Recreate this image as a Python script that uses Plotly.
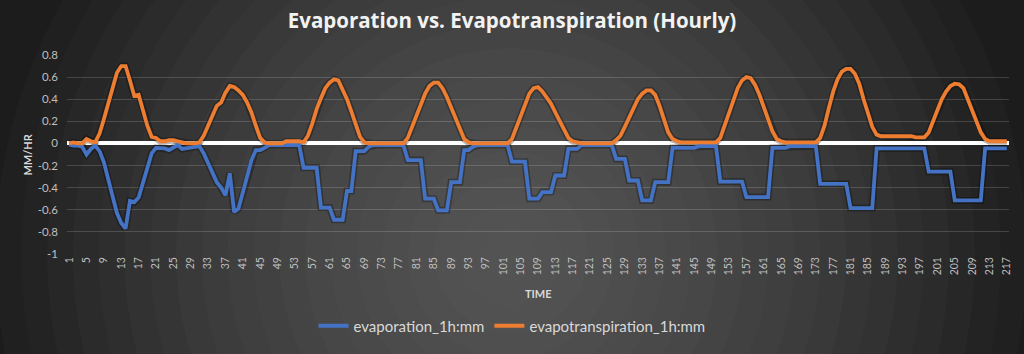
import plotly.graph_objects as go

# ---------------- data ----------------
hours = list(range(1, 218))

evapotranspiration = [
    0.00, 0.01, 0.00, 0.00, 0.04, 0.02, 0.01, 0.09, 0.22, 0.37,
    0.50, 0.64, 0.70, 0.70, 0.57, 0.43, 0.44, 0.31, 0.16, 0.06,
    0.05, 0.02, 0.02, 0.03, 0.03, 0.02, 0.01, 0.00, 0.00, 0.00,
    0.01, 0.07, 0.16, 0.26, 0.34, 0.37, 0.46, 0.52, 0.51, 0.48,
    0.44, 0.37, 0.28, 0.16, 0.05, 0.01, 0.00, 0.00, 0.00, 0.00,
    0.02, 0.02, 0.02, 0.02, 0.01, 0.07, 0.18, 0.31, 0.41, 0.50,
    0.55, 0.58, 0.57, 0.49, 0.40, 0.29, 0.18, 0.06, 0.01, 0.00,
    0.00, 0.00, 0.00, 0.00, 0.00, 0.00, 0.00, 0.00, 0.05, 0.15,
    0.26, 0.37, 0.45, 0.52, 0.55, 0.55, 0.50, 0.42, 0.32, 0.22,
    0.12, 0.04, 0.01, 0.00, 0.00, 0.00, 0.00, 0.00, 0.00, 0.00,
    0.00, 0.00, 0.04, 0.14, 0.26, 0.36, 0.45, 0.50, 0.51, 0.47,
    0.42, 0.36, 0.28, 0.20, 0.12, 0.05, 0.02, 0.01, 0.00, 0.00,
    0.00, 0.00, 0.00, 0.00, 0.00, 0.00, 0.03, 0.07, 0.15, 0.24,
    0.32, 0.40, 0.45, 0.48, 0.48, 0.44, 0.34, 0.22, 0.10, 0.04,
    0.02, 0.01, 0.01, 0.01, 0.01, 0.01, 0.01, 0.01, 0.01, 0.01,
    0.05, 0.16, 0.28, 0.40, 0.50, 0.57, 0.60, 0.59, 0.53, 0.44,
    0.34, 0.22, 0.11, 0.04, 0.02, 0.01, 0.01, 0.01, 0.01, 0.01,
    0.01, 0.01, 0.01, 0.05, 0.16, 0.32, 0.47, 0.58, 0.65, 0.675,
    0.675, 0.63, 0.54, 0.40, 0.26, 0.15, 0.08, 0.065, 0.065, 0.065,
    0.065, 0.065, 0.065, 0.065, 0.065, 0.055, 0.055, 0.055, 0.10, 0.19,
    0.30, 0.40, 0.47, 0.52, 0.54, 0.535, 0.50, 0.40, 0.30, 0.20,
    0.10, 0.04, 0.02, 0.02, 0.02, 0.02, 0.02,
]

evaporation = [
    -0.01, -0.02, -0.02, -0.03, -0.10, -0.05, -0.02, -0.07, -0.17, -0.33,
    -0.49, -0.63, -0.72, -0.77, -0.52, -0.53, -0.49, -0.36, -0.22, -0.09,
    -0.04, -0.04, -0.045, -0.06, -0.04, -0.015, -0.05, -0.045, -0.04, -0.035,
    -0.025, -0.09, -0.18, -0.25, -0.35, -0.40, -0.47, -0.27, -0.62, -0.59,
    -0.45, -0.30, -0.15, -0.06, -0.06, -0.04, -0.015, -0.015, -0.015, -0.015,
    -0.015, -0.015, -0.015, -0.015, -0.22, -0.22, -0.22, -0.22, -0.58, -0.58,
    -0.58, -0.69, -0.69, -0.69, -0.43, -0.43, -0.07, -0.07, -0.07, -0.03,
    -0.015, -0.015, -0.015, -0.015, -0.015, -0.015, -0.015, -0.015, -0.15, -0.15,
    -0.15, -0.15, -0.50, -0.50, -0.50, -0.605, -0.605, -0.605, -0.35, -0.35,
    -0.35, -0.06, -0.06, -0.03, -0.015, -0.015, -0.015, -0.015, -0.015, -0.015,
    -0.015, -0.015, -0.165, -0.165, -0.165, -0.165, -0.50, -0.50, -0.50, -0.44,
    -0.44, -0.44, -0.29, -0.29, -0.29, -0.05, -0.05, -0.05, -0.015, -0.015,
    -0.015, -0.015, -0.015, -0.015, -0.015, -0.015, -0.14, -0.14, -0.14, -0.335,
    -0.335, -0.335, -0.515, -0.515, -0.515, -0.35, -0.35, -0.35, -0.35, -0.04,
    -0.04, -0.04, -0.04, -0.04, -0.04, -0.025, -0.025, -0.025, -0.025, -0.025,
    -0.345, -0.345, -0.345, -0.345, -0.345, -0.345, -0.485, -0.485, -0.485, -0.485,
    -0.485, -0.485, -0.04, -0.04, -0.04, -0.04, -0.025, -0.025, -0.025, -0.025,
    -0.025, -0.025, -0.025, -0.365, -0.365, -0.365, -0.365, -0.365, -0.365, -0.365,
    -0.585, -0.585, -0.585, -0.585, -0.585, -0.585, -0.045, -0.045, -0.045, -0.045,
    -0.045, -0.045, -0.045, -0.045, -0.045, -0.045, -0.045, -0.045, -0.255, -0.255,
    -0.255, -0.255, -0.255, -0.255, -0.515, -0.515, -0.515, -0.515, -0.515, -0.515,
    -0.515, -0.045, -0.045, -0.045, -0.045, -0.045, -0.045,
]

x_tick_values = list(range(1, 218, 4))
y_tick_values = [-1, -0.8, -0.6, -0.4, -0.2, 0, 0.2, 0.4, 0.6, 0.8]
y_tick_labels = ["-1", "-0.8", "-0.6", "-0.4", "-0.2", "0", "0.2", "0.4", "0.6", "0.8"]

# ---------------- figure ----------------
W, H = 1024, 354
ML, MR, MT, MB = 67, 13, 55, 100
PW, PH = W - ML - MR, H - MT - MB

FONT = "Lato"
BLUE = "#4472C4"
ORANGE = "#ED7D31"

fig = go.Figure()

# soft shadows under the lines
for ys in (evaporation, evapotranspiration):
    fig.add_trace(go.Scatter(x=hours, y=ys, mode="lines",
                             line=dict(color="rgba(0,0,0,0.28)", width=7),
                             hoverinfo="skip", showlegend=False))

fig.add_trace(go.Scatter(x=hours, y=evaporation, mode="lines",
                         name="evaporation_1h:mm",
                         line=dict(color=BLUE, width=3.8)))
fig.add_trace(go.Scatter(x=hours, y=evapotranspiration, mode="lines",
                         name="evapotranspiration_1h:mm",
                         line=dict(color=ORANGE, width=3.8)))

# radial-gradient-like background made of concentric circles
cx, cy = 512, 255
R_MAX = 620
shapes = []
steps = 24
for k in range(steps):
    r = R_MAX * (1 - k / steps)
    t = r / 540.0
    v = int(round(84 - 56 * min(t, 1.0) ** 1.5))
    col = f"rgb({v},{v},{v})"
    shapes.append(dict(
        type="circle", xref="paper", yref="paper", layer="below",
        x0=(cx - r - ML) / PW, x1=(cx + r - ML) / PW,
        y0=1 - (cy + r - MT) / PH, y1=1 - (cy - r - MT) / PH,
        fillcolor=col, line=dict(width=0),
    ))

fig.update_layout(
    width=W, height=H,
    margin=dict(l=ML, r=MR, t=MT, b=MB, pad=0),
    paper_bgcolor="#1c1c1c",
    plot_bgcolor="rgba(0,0,0,0)",
    shapes=shapes,
    title=dict(text="<b>Evaporation vs. Evapotranspiration (Hourly)</b>",
               x=0.5, xref="container", xanchor="center",
               y=1 - 21 / H, yref="container", yanchor="middle",
               font=dict(family="Open Sans", size=20.5, color="#f2f2f2")),
    showlegend=True,
    legend=dict(orientation="h", x=0.5, xref="container", xanchor="center",
                y=1 - 326 / H, yref="container", yanchor="middle",
                font=dict(family=FONT, size=15, color="#d9d9d9"),
                bgcolor="rgba(0,0,0,0)", itemwidth=30),
    xaxis=dict(range=[0.5, 217.5], tickmode="array", tickvals=x_tick_values,
               ticktext=[str(v) for v in x_tick_values], tickangle=-90,
               tickfont=dict(family=FONT, size=10.5, color="#bfbfbf"),
               showgrid=False, zeroline=False, showline=False, ticks=""),
    yaxis=dict(range=[-1, 0.8], tickmode="array", tickvals=y_tick_values,
               ticktext=y_tick_labels,
               tickfont=dict(family=FONT, size=11.5, color="#bfbfbf"),
               showgrid=True, gridcolor="rgba(255,255,255,0.16)", gridwidth=1,
               zeroline=True, zerolinecolor="#ffffff", zerolinewidth=3.5,
               showline=False, ticks="", ticklabelstandoff=8),
    annotations=[
        dict(text="<b>MM/HR</b>", x=(27 - ML) / PW, xref="paper",
             y=0.5, yref="paper", showarrow=False, textangle=-90,
             font=dict(family=FONT, size=11, color="#d9d9d9"),
             xanchor="center", yanchor="middle"),
        dict(text="<b>TIME</b>", x=0.5, xref="paper", y=1 - (293 - MT) / PH,
             yref="paper", showarrow=False,
             font=dict(family=FONT, size=11, color="#d9d9d9"),
             xanchor="center", yanchor="middle"),
    ],
)

fig.write_html("out.html")
